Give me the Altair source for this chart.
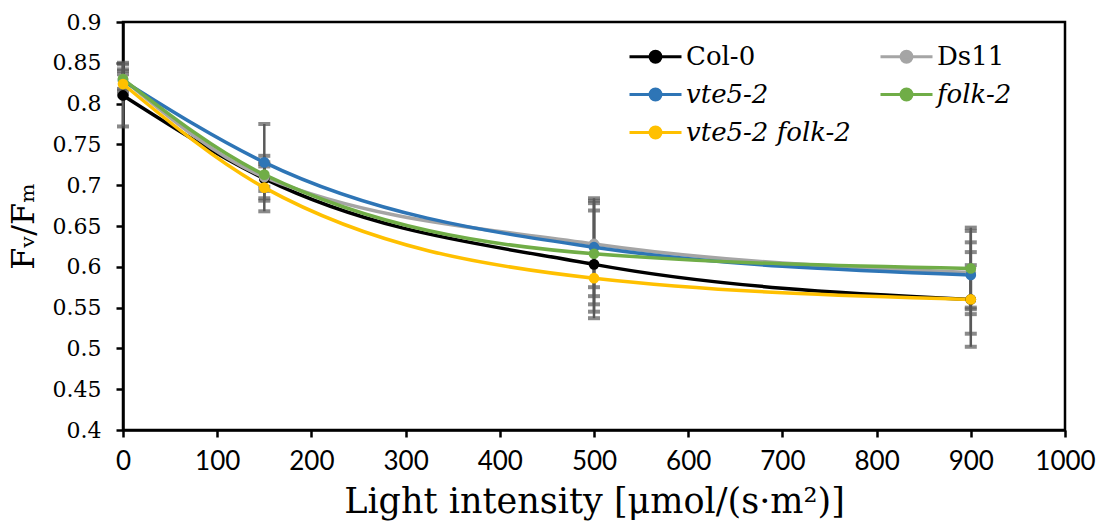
import altair as alt
import pandas as pd

light = [0, 150, 500, 900]
series_names = ["Col-0", "Ds11", "vte5-2", "folk-2", "vte5-2 folk-2"]
series_colors = ["#000000", "#A5A5A5", "#2E75B6", "#70AD47", "#FFC000"]

col0 = [0.810, 0.708, 0.603, 0.560]
ds11 = [0.830, 0.710, 0.628, 0.593]
vte5 = [0.828, 0.728, 0.624, 0.590]
folk = [0.830, 0.713, 0.616, 0.598]
double = [0.824, 0.697, 0.586, 0.560]

col0_err = [0.038, 0.015, 0.066, 0.058]
ds11_err = [0.020, 0.026, 0.053, 0.051]
vte5_err = [0.012, 0.047, 0.060, 0.040]
folk_err = [0.012, 0.015, 0.062, 0.050]
double_err = [0.012, 0.029, 0.041, 0.042]

values = [col0, ds11, vte5, folk, double]
errors = [col0_err, ds11_err, vte5_err, folk_err, double_err]

rows = []
for si, (name, vals, errs) in enumerate(zip(series_names, values, errors)):
    for x, v, e in zip(light, vals, errs):
        rows.append({"series": name, "order": si, "light": x, "fvfm": v,
                     "lo": v - e, "hi": v + e})
df = pd.DataFrame(rows)

serif = "DejaVu Serif"
x_ticks = list(range(0, 1001, 100))
y_ticks = [0.4, 0.45, 0.5, 0.55, 0.6, 0.65, 0.7, 0.75, 0.8, 0.85, 0.9]

xscale = alt.Scale(domain=[0, 1000], nice=False)
yscale = alt.Scale(domain=[0.4, 0.9], nice=False, zero=False)

xenc = alt.X("light:Q", scale=xscale, axis=alt.Axis(
    values=x_ticks, format="d", title="Light intensity [μmol/(s·m²)]",
    titleFont=serif, titleFontSize=35, titleFontWeight="normal", titleColor="#000",
    titlePadding=10,
    labelFont="Lato", labelFontSize=26, labelColor="#000", labelPadding=11,
    tickSize=7, tickWidth=2.5, tickColor="#000", domainColor="#000", domainWidth=2.5,
    grid=False, labelFlush=False, labelOverlap=False))
yenc = alt.Y("fvfm:Q", scale=yscale, axis=alt.Axis(
    values=y_ticks, format="~g", title="Fᵥ/Fₘ",
    titleFont=serif, titleFontSize=32, titleFontWeight="normal", titleColor="#000",
    titlePadding=12,
    labelFont=serif, labelFontSize=22, labelColor="#000", labelPadding=15,
    tickSize=7, tickWidth=2.5, tickColor="#000", domainColor="#000", domainWidth=2.5,
    grid=False, labelFlush=False, labelOverlap=False))

color_scale = alt.Scale(domain=series_names, range=series_colors)
legend = alt.Legend(
    title=None, orient="none", legendX=518, legendY=20, columns=2,
    direction="horizontal",
    symbolType="M-2,0L2,0M0.42,0A0.42,0.42,0,1,1,-0.42,0A0.42,0.42,0,1,1,0.42,0Z",
    symbolSize=676, symbolStrokeWidth=3, labelOffset=16,
    columnPadding=23, rowPadding=10, padding=0,
    labelFont=serif, labelFontSize=26, labelColor="#000", labelLimit=400,
    labelFontStyle={"expr": "indexof(['Col-0','Ds11'], datum.label) >= 0 ? 'normal' : 'italic'"},
)

base = alt.Chart(df)

err_rule = base.mark_rule(color="#595959", strokeWidth=2.5).encode(
    x="light:Q", y=alt.Y("lo:Q", scale=yscale), y2="hi:Q")
cap_lo = base.mark_tick(color="#595959", thickness=4, size=12, orient="horizontal").encode(
    x="light:Q", y=alt.Y("lo:Q", scale=yscale))
cap_hi = base.mark_tick(color="#595959", thickness=4, size=12, orient="horizontal").encode(
    x="light:Q", y=alt.Y("hi:Q", scale=yscale))

line = base.mark_line(strokeWidth=3.5, interpolate="monotone").encode(
    x=xenc, y=yenc,
    color=alt.Color("series:N", scale=color_scale, sort=series_names, legend=legend),
    order="light:Q")

pts = base.mark_circle(size=115, opacity=1).encode(
    x="light:Q", y="fvfm:Q",
    color=alt.Color("series:N", scale=color_scale, sort=series_names, legend=legend))

chart = alt.layer(err_rule, cap_lo, cap_hi, line, pts).properties(
    width=942, height=408,
    autosize=alt.AutoSizeParams(type="none"),
    padding={"left": 123, "top": 22, "right": 33, "bottom": 96},
    background="white",
).configure_view(stroke="#000", strokeWidth=2.5).configure_axis(
    labelFontWeight="normal")

chart.save("out.html", embed_options={"renderer": "svg", "actions": False})
